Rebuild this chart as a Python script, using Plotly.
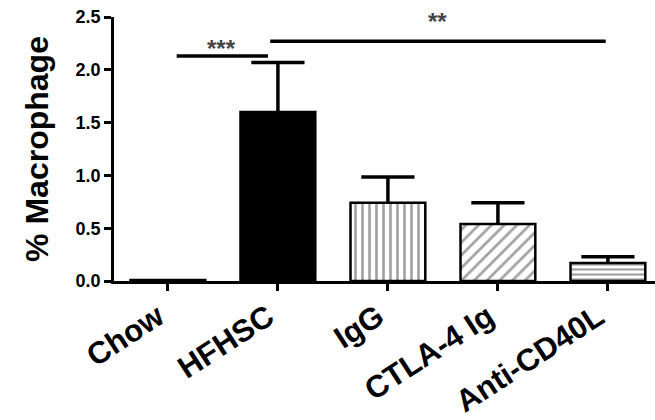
import plotly.graph_objects as go

categories = ["Chow", "HFHSC", "IgG", "CTLA-4 Ig", "Anti-CD40L"]
means = [0.01, 1.60, 0.74, 0.54, 0.17]
sem_upper = [0.0, 0.47, 0.245, 0.20, 0.06]
y_ticks = [0.0, 0.5, 1.0, 1.5, 2.0, 2.5]
Y_MAX = 2.5

# significance comparisons
sig_x0 = [0.08, 0.93]
sig_x1 = [0.91, 3.98]
sig_y = [2.13, 2.27]
sig_text = ["***", "**"]
sig_text_y = [2.20, 2.46]
sig_text_x = [0.49, 2.45]

fills = ["white", "black", "white", "white", "white"]
shapes_pat = ["", "", "|", "/", "-"]
pat_size = [6, 6, 7, 9, 5]
pat_sol = [0.3, 0.3, 0.38, 0.3, 0.45]

FONT = "Liberation Sans, Arial, sans-serif"
xs = list(range(len(categories)))

fig = go.Figure()
fig.add_trace(go.Bar(
    x=xs,
    y=means,
    width=0.68,
    marker=dict(
        color=fills,
        line=dict(color="black", width=2.5),
        pattern=dict(shape=shapes_pat, size=pat_size, solidity=pat_sol,
                     fgcolor="black", bgcolor="white", fillmode="overlay"),
    ),
    showlegend=False,
))

# upward-only error bars: stems and caps
stem_x, stem_y, cap_x, cap_y = [], [], [], []
for x, m, s in zip(xs, means, sem_upper):
    if s <= 0:
        continue
    stem_x += [x, x, None]
    stem_y += [m, m + s, None]
    cap_x.append(x)
    cap_y.append(m + s)
fig.add_trace(go.Scatter(x=stem_x, y=stem_y, mode="lines",
                         line=dict(color="black", width=3.5), showlegend=False,
                         hoverinfo="skip"))
fig.add_trace(go.Scatter(x=cap_x, y=cap_y, mode="markers",
                         marker=dict(symbol="line-ew-open", size=38, color="black",
                                     line=dict(color="black", width=3.5)),
                         showlegend=False, hoverinfo="skip"))

shapes = []
for x0, x1, yy in zip(sig_x0, sig_x1, sig_y):
    shapes.append(dict(type="line", xref="x", yref="y", x0=x0, x1=x1, y0=yy, y1=yy,
                       line=dict(color="black", width=3.5)))
annotations = []
for t, tx, ty in zip(sig_text, sig_text_x, sig_text_y):
    annotations.append(dict(text=t, x=tx, y=ty / Y_MAX, xref="x", yref="paper",
                            showarrow=False, yanchor="middle",
                            font=dict(family=FONT, size=24, color="#444444", weight="bold")))

fig.update_layout(
    width=655, height=420,
    margin=dict(l=114, r=0, t=17, b=139),
    plot_bgcolor="white", paper_bgcolor="white",
    shapes=shapes, annotations=annotations,
    xaxis=dict(
        range=[-0.49, 4.428], automargin=False,
        tickmode="array", tickvals=xs, ticktext=categories,
        tickangle=-33,
        tickfont=dict(family=FONT, size=31, color="black", weight="bold"),
        ticklabelshift=-10, ticklabelstandoff=-4,
        showline=True, linecolor="black", linewidth=2.5,
        ticks="outside", ticklen=7, tickwidth=2.5, tickcolor="black",
        showgrid=False, zeroline=False,
    ),
    yaxis=dict(
        range=[0, Y_MAX], automargin=False,
        tickmode="array", tickvals=y_ticks, ticktext=[f"{v:.1f}" for v in y_ticks],
        tickfont=dict(family=FONT, size=18, color="black", weight="bold"),
        showline=True, linecolor="black", linewidth=2.5,
        ticks="outside", ticklen=7, tickwidth=2.5, tickcolor="black",
        showgrid=False, zeroline=False,
        title=dict(text="% Macrophage", standoff=18,
                   font=dict(family=FONT, size=32, color="black", weight="bold")),
    ),
)

fig.write_html("out.html", config={"displayModeBar": False},
               post_script="document.body.style.margin='0';")
